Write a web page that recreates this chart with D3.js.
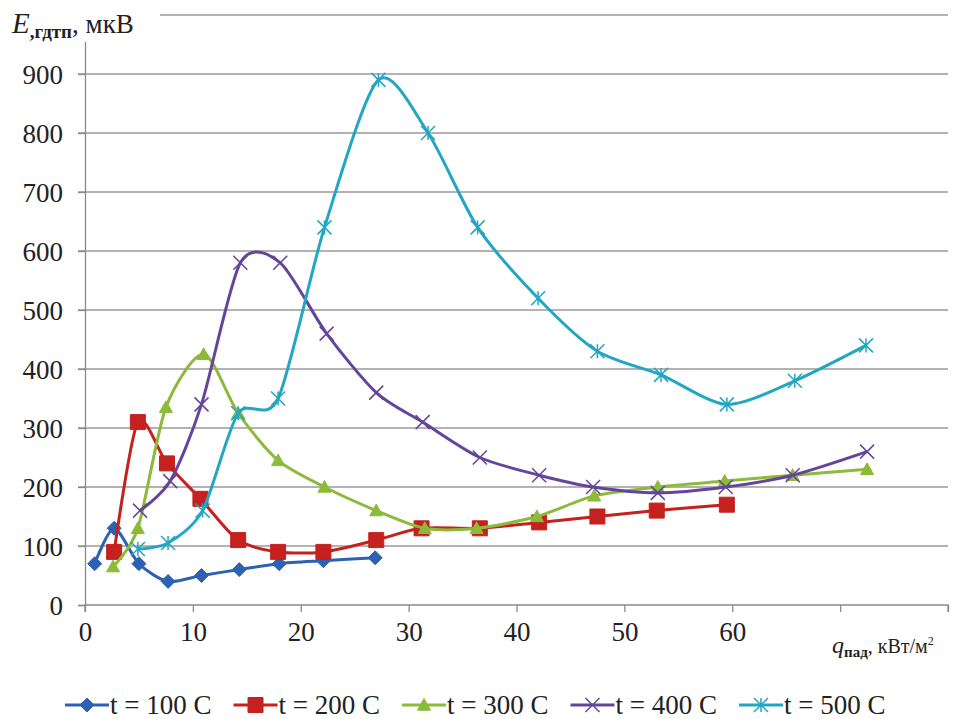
<!DOCTYPE html>
<html>
<head>
<meta charset="utf-8">
<script src="https://cdn.jsdelivr.net/npm/d3@7"></script>
<style>
  body { margin: 0; background: #fff; }
  svg text { font-family: "Liberation Serif", "DejaVu Serif", "Times New Roman", Times, serif !important; fill: #222; }
</style>
</head>
<body>
<div class="canvas"></div>
<script>
// data
const seriesNames = ['t = 100 C', 't = 200 C', 't = 300 C', 't = 400 C', 't = 500 C'];
const colors = ['#2d62b2', '#c4211f', '#8cba3a', '#65449c', '#22a6c2'];
const markers = ['diamond', 'square', 'triangle', 'x', 'star'];

const x100 = [0.9, 2.7, 5.0, 7.7, 10.8, 14.3, 18.0, 22.1, 26.9];
const y100 = [70, 130, 70, 40, 50, 60, 70, 75, 80];

const x200 = [2.7, 4.9, 7.6, 10.7, 14.2, 17.9, 22.1, 27.0, 31.2, 36.6, 42.1, 47.5, 53.0, 59.5];
const y200 = [90, 310, 240, 180, 110, 90, 90, 110, 130, 130, 140, 150, 160, 170];

const x300 = [2.6, 4.9, 7.5, 11.0, 14.2, 17.9, 22.2, 27.0, 31.5, 36.3, 41.9, 47.2, 53.1, 59.3, 65.6, 72.5];
const y300 = [65, 130, 335, 425, 325, 245, 200, 160, 130, 130, 150, 185, 200, 210, 220, 230];

const x400 = [5.1, 7.9, 10.8, 14.4, 18.1, 22.4, 27.0, 31.3, 36.6, 42.1, 47.1, 53.1, 59.4, 65.6, 72.5];
const y400 = [160, 210, 340, 580, 580, 460, 360, 310, 250, 220, 200, 190, 200, 220, 260];

const x500 = [4.9, 7.7, 10.9, 14.2, 17.9, 22.2, 27.2, 31.8, 36.4, 42.0, 47.5, 53.4, 59.5, 65.8, 72.4];
const y500 = [95, 105, 160, 325, 350, 640, 890, 800, 640, 520, 430, 390, 340, 380, 440];

const xTicks = [0, 10, 20, 30, 40, 50, 60];
const yTicks = [0, 100, 200, 300, 400, 500, 600, 700, 800, 900];

const series = [
  x100.map((d, i) => ({ x: d, y: y100[i] })),
  x200.map((d, i) => ({ x: d, y: y200[i] })),
  x300.map((d, i) => ({ x: d, y: y300[i] })),
  x400.map((d, i) => ({ x: d, y: y400[i] })),
  x500.map((d, i) => ({ x: d, y: y500[i] }))
];

const width = 979, height = 719;
const margin = { top: 15, right: 31, bottom: 114, left: 85 };
const graphWidth = width - margin.left - margin.right;
const graphHeight = height - margin.top - margin.bottom;
const serif = '"Liberation Serif", "DejaVu Serif", serif';

const svg = d3.select('.canvas')
  .append('svg')
    .attr('width', width)
    .attr('height', height);

const graph = svg.append('g')
  .attr('transform', `translate(${margin.left}, ${margin.top})`);

const x = d3.scaleLinear().domain([0, 80]).range([0, graphWidth]);
const y = d3.scaleLinear().domain([0, 1000]).range([graphHeight, 0]);

// gridlines
graph.append('g')
  .selectAll('line')
  .data(d3.range(100, 1001, 100))
  .enter().append('line')
    .attr('x1', -7).attr('x2', graphWidth)
    .attr('y1', d => y(d)).attr('y2', d => y(d))
    .attr('stroke', '#9a9a9a').attr('stroke-width', 1.3);

// axes
const yAxis = d3.axisLeft(y).tickValues(yTicks).tickSize(7).tickPadding(15);
const xAxis = d3.axisBottom(x).tickValues(d3.range(0, 81, 10)).tickSize(7).tickPadding(10)
  .tickFormat(d => xTicks.includes(d) ? d : '');

const yAxisGroup = graph.append('g').call(yAxis);
const xAxisGroup = graph.append('g').attr('transform', `translate(0, ${graphHeight})`).call(xAxis);

[yAxisGroup, xAxisGroup].forEach(g => {
  g.attr('font-family', null);
  g.selectAll('.domain').attr('stroke', '#8a8a8a').attr('stroke-width', 1.3);
  g.selectAll('.tick line').attr('stroke', '#8a8a8a').attr('stroke-width', 1.3);
  g.selectAll('text').style('font-family', serif)
    .attr('font-size', 27).attr('fill', '#222');
});
yAxisGroup.selectAll('text').attr('dy', '0.34em');
xAxisGroup.selectAll('.domain').attr('d', `M0,7V0H${graphWidth}V7`);

// markers
const markerPath = (type, s) => {
  const h = s / 2;
  if (type === 'diamond') return `M0,${-h}L${h},0L0,${h}L${-h},0Z`;
  if (type === 'square') return `M${-h},${-h}H${h}V${h}H${-h}Z`;
  if (type === 'triangle') return `M0,${-h}L${h},${h * 0.8}L${-h},${h * 0.8}Z`;
  if (type === 'x') return `M${-h},${-h}L${h},${h}M${-h},${h}L${h},${-h}`;
  return `M${-h},${-h}L${h},${h}M${-h},${h}L${h},${-h}M0,${-h}V${h}`;
};
const markerSize = [14, 15, 13, 14, 14];

const drawMarker = (sel, i) => {
  const filled = i < 3;
  sel.append('path')
    .attr('d', markerPath(markers[i], markerSize[i]))
    .attr('fill', filled ? colors[i] : 'none')
    .attr('stroke', colors[i])
    .attr('stroke-width', filled ? 1 : 1.5);
};

const line = d3.line()
  .x(d => x(d.x))
  .y(d => y(d.y))
  .curve(d3.curveCardinal.tension(0.2));

series.forEach((data, i) => {
  const g = graph.append('g');
  g.append('path')
    .datum(data)
    .attr('d', line)
    .attr('fill', 'none')
    .attr('stroke', colors[i])
    .attr('stroke-width', 3);
  g.selectAll('g.pt')
    .data(data)
    .enter().append('g')
      .attr('class', 'pt')
      .attr('transform', d => `translate(${x(d.x)}, ${y(d.y)})`)
      .each(function () { drawMarker(d3.select(this), i); });
});

// y axis title over a white patch
svg.append('rect').attr('x', 0).attr('y', 0).attr('width', 160).attr('height', 42).attr('fill', '#fff');
const yTitle = svg.append('text').attr('x', 12).attr('y', 33).attr('font-size', 27).style('font-family', serif);
yTitle.append('tspan').attr('font-style', 'italic').attr('font-size', 29).text('E');
yTitle.append('tspan').attr('font-size', 19).attr('dy', 5).attr('font-weight', 'bold').text(',гдтп');
yTitle.append('tspan').attr('dy', -5).text(', мкВ');

// x axis title
const xTitle = svg.append('text').attr('x', 832).attr('y', 653).attr('font-size', 20).style('font-family', serif);
xTitle.append('tspan').attr('font-style', 'italic').attr('font-size', 24).text('q');
xTitle.append('tspan').attr('font-size', 15).attr('dy', 4).attr('font-weight', 'bold').text('пад');
xTitle.append('tspan').attr('dy', -4).text(', кВт/м');
xTitle.append('tspan').attr('font-size', 12).attr('dy', -8).text('2');

// legend
const legend = svg.append('g').attr('transform', 'translate(65, 705)');
let cursor = 0;
seriesNames.forEach((name, i) => {
  const item = legend.append('g').attr('transform', `translate(${cursor}, 0)`);
  item.append('line')
    .attr('x1', 0).attr('x2', 44)
    .attr('stroke', colors[i]).attr('stroke-width', 3);
  drawMarker(item.append('g').attr('transform', 'translate(22, 0)'), i);
  const t = item.append('text')
    .attr('x', 45).attr('dy', '0.34em')
    .attr('font-size', 27)
    .style('font-family', serif)
    .text(name);
  cursor += 45 + t.node().getComputedTextLength() + 22;
});
</script>
</body>
</html>
